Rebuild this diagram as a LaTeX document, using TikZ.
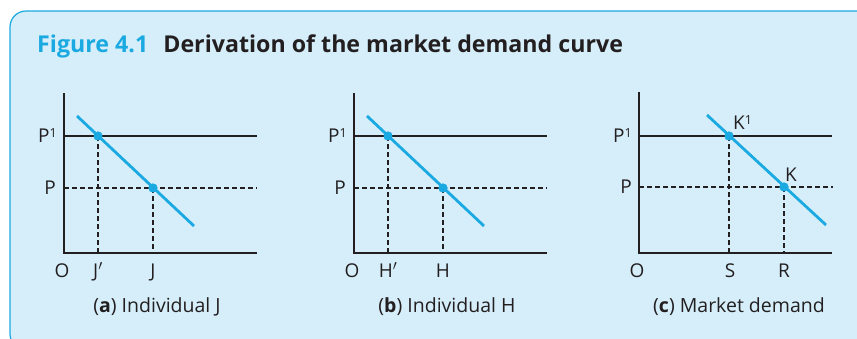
\documentclass[tikz,border=0pt]{standalone}
\usepackage{fontspec}
\setmainfont{Open Sans}
\definecolor{bgblue}{HTML}{D5EEFA}
\definecolor{cyanline}{HTML}{1BA9E1}
\definecolor{titlecyan}{HTML}{1BA9E1}
\definecolor{ink}{HTML}{231F20}
\newcommand\supone{\raisebox{4.2pt}{\fontsize{12.5}{12.5}\selectfont 1}}
\newcommand\primemark{\raisebox{0pt}{$'$}}
\tikzset{
  axis/.style={draw=ink, line width=1.3pt},
  guide/.style={draw=ink, line width=1.2pt, dash pattern=on 4.5pt off 3.5pt},
  demand/.style={draw=cyanline, line width=2.8pt},
  dot/.style={circle, fill=cyanline, inner sep=0pt, minimum size=9pt},
  lab/.style={font=\fontsize{19}{21}\selectfont, text=ink, anchor=base, inner sep=0pt},
  labe/.style={lab, anchor=base east},
  labw/.style={lab, anchor=base west},
  capt/.style={font=\fontsize{19.5}{22}\selectfont, text=ink, anchor=base, inner sep=0pt},
}
\begin{document}
\begin{tikzpicture}[x=1pt, y=-1pt]
\useasboundingbox (0,0) rectangle (857,338);
\begin{scope}
\clip (0,0) rectangle (857,338);
\draw[fill=bgblue, draw=cyanline, line width=1.2pt, rounded corners=16pt] (10,11) rectangle (880,350);
\end{scope}
\node[anchor=base west, inner sep=0pt, font=\fontsize{23.2}{26}\selectfont\bfseries] (title) at (37,52)
  {\textcolor{titlecyan}{Figure 4.1}\hspace{0.65em}\textcolor{ink}{Derivation of the market demand curve}};

% ---------- panels a and b
\foreach \sx/\pa/\pb/\ca/\cb/\xmid/\cap/\nm in {
  0/J\primemark/J/98/153/157/{(\textbf{a}) Individual J}/a,
  290/H\primemark/H/98/153/157/{(\textbf{b}) Individual H}/b}{
  \begin{scope}[xshift=\sx pt]
    \coordinate (\nm-top) at (64,93);
    \coordinate (\nm-o) at (64,253);
    \coordinate (\nm-xe) at (257,253);
    \coordinate (\nm-p1a) at (64,136);
    \coordinate (\nm-p1b) at (257,136);
    \coordinate (\nm-pa) at (64,188);
    \coordinate (\nm-pb) at (257,188);
    \coordinate (\nm-d1) at (77,116);
    \coordinate (\nm-d2) at (194,226);
    \coordinate (\nm-f1) at (\ca,253);
    \coordinate (\nm-f2) at (\cb,253);
    \path[guide] (\nm-pa) -- (\nm-pb);
    \node[dot] (\nm-k1) at (\ca,136) {};
    \node[dot] (\nm-k) at (\cb,188) {};
    \path[guide] (\nm-k1.center) -- (\nm-f1);
    \path[guide] (\nm-k.center) -- (\nm-f2);
    \path[axis] (\nm-top) -- (\nm-o) -- (\nm-xe);
    \path[axis] (\nm-p1a) -- (\nm-p1b);
    \path[demand] (\nm-d1) -- (\nm-d2);
    \node[dot] at (\nm-k1) {};
    \node[dot] at (\nm-k) {};
    \node[labe] (\nm-lp1) at (57,142) {P\supone};
    \node[labe] (\nm-lp) at (56,194) {P};
    \node[lab] (\nm-lo) at (62,277) {O};
    \node[lab] (\nm-la) at (\ca,277) {\pa};
    \node[lab] (\nm-lb) at (\cb,277) {\pb};
    \node[capt] (\nm-cap) at (\xmid,312) {\cap};
  \end{scope}
}

% ---------- panel c
\coordinate (c-top) at (639,92);
\coordinate (c-o) at (639,253);
\coordinate (c-xe) at (832,253);
\coordinate (c-p1a) at (639,136);
\coordinate (c-p1b) at (832,136);
\coordinate (c-pa) at (639,187);
\coordinate (c-pb) at (833,187);
\coordinate (c-d1) at (707,115);
\coordinate (c-d2) at (826,225);
\coordinate (c-f1) at (729,253);
\coordinate (c-f2) at (784,253);
\path[guide] (c-pa) -- (c-pb);
\node[dot] (c-k1) at (729,136) {};
\node[dot] (c-k) at (784,187) {};
\path[guide] (c-k1.center) -- (c-f1);
\path[guide] (c-k.center) -- (c-f2);
\path[axis] (c-top) -- (c-o) -- (c-xe);
\path[axis] (c-p1a) -- (c-p1b);
\path[demand] (c-d1) -- (c-d2);
\node[dot] at (c-k1) {};
\node[dot] at (c-k) {};
\node[labe] (c-lp1) at (632,142) {P\supone};
\node[labe] (c-lp) at (632,193) {P};
\node[lab] (c-lo) at (637,277) {O};
\node[lab] (c-ls) at (730,277) {S};
\node[lab] (c-lr) at (784,277) {R};
\node[labw] (c-lk1) at (733,129) {K\supone};
\node[labw] (c-lk) at (785,181) {K};
\node[capt] (c-cap) at (739,312) {(\textbf{c}) Market demand};
\end{tikzpicture}
\end{document}
